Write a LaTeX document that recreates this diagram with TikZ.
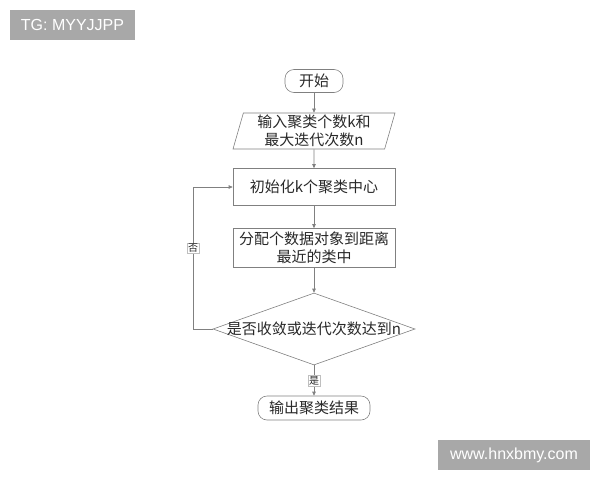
\documentclass[tikz,border=0pt]{standalone}
\usepackage{fontspec}
\usepackage{xcolor}
\usepackage{tikz}
\usetikzlibrary{shapes.geometric, arrows.meta}
\newfontfamily\cjk{Noto Sans CJK SC}
\setsansfont{Liberation Sans}
\definecolor{linegray}{RGB}{128,128,128}
\definecolor{textgray}{RGB}{40,40,40}
\definecolor{markgray}{RGB}{168,168,168}

\begin{document}
\begin{tikzpicture}[x=1pt, y=-1pt,
  every node/.style={font=\cjk\fontsize{15}{18}\selectfont, text=textgray, align=center},
  flow/.style={draw=linegray, line width=0.6pt},
  terminal/.style={flow, rectangle, rounded corners=9pt, minimum height=23pt, inner sep=0pt},
  process/.style={flow, rectangle, minimum width=162pt, inner sep=0pt},
  io/.style={flow, trapezium, trapezium left angle=72, trapezium right angle=108, trapezium stretches body, minimum width=162pt, minimum height=36pt, inner sep=0pt},
  decision/.style={flow, diamond, minimum width=202pt, minimum height=72pt, inner sep=0pt},
  link/.style={draw=linegray, line width=0.6pt, -{Triangle[length=4pt, width=3.5pt]}},
  lbl/.style={fill=white, draw=linegray!50, line width=0.4pt, inner sep=1pt, font=\cjk\fontsize{10}{11}\selectfont},
  watermark/.style={fill=markgray, text=white, font=\sffamily\fontsize{16}{18}\selectfont, minimum height=30pt, inner sep=0pt}]
  \useasboundingbox (0,0) rectangle (600,480);

  \node[watermark, minimum width=125pt] (tg) at (72.5,25) {TG: MYYJJPP};
  \node[watermark, minimum width=152pt] (web) at (514,455) {www.hnxbmy.com};

  \node[terminal, minimum width=58pt] (start) at (314,81) {开始};
  \node[io] (input) at (314,131) {输入聚类个数k和\\最大迭代次数n};
  \node[process, minimum height=37pt] (init) at (314,187) {初始化k个聚类中心};
  \node[process, minimum height=39pt] (assign) at (314,248) {分配个数据对象到距离\\最近的类中};
  \node[decision] (judge) at (314,329) {};
  \node (judgetext) at (judge) {是否收敛或迭代次数达到n};
  \node[terminal, minimum width=112pt, minimum height=24pt] (stop) at (314,408) {输出聚类结果};
  \coordinate (loop) at (193,329);

  \draw[link] (start) -- (input);
  \draw[link] (input) -- (init);
  \draw[link] (init) -- (assign);
  \draw[link] (assign) -- (judge);
  \draw[link] (judge) -- node[lbl] (yes) {是} (stop);
  \draw[link] (judge.west) -- (loop) |- node[lbl, pos=0.285] (no) {否} (init.west);
\end{tikzpicture}
\end{document}
